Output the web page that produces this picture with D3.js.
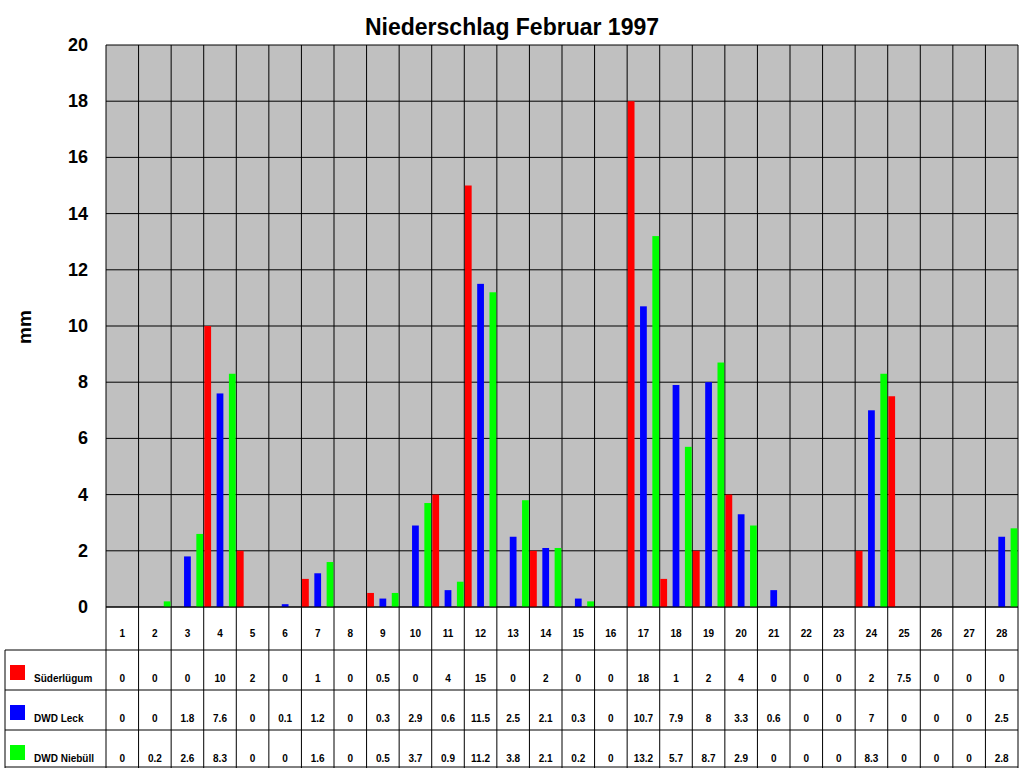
<!DOCTYPE html>
<html><head><meta charset="utf-8">
<script src="https://cdn.jsdelivr.net/npm/d3@7"></script>
<style>body{margin:0;background:#fff}svg{font-family:Arial,"Liberation Sans",sans-serif}</style>
</head><body><div id="chart"></div>
<script>
// Daten
const tage = d3.range(1, 29).map(String);
const serien = ["Süderlügum", "DWD Leck", "DWD Niebüll"];
const farben = ["#ff0000", "#0000ff", "#00ff00"];
const suederluegum = [0,0,0,10,2,0,1,0,0.5,0,4,15,0,2,0,0,18,1,2,4,0,0,0,2,7.5,0,0,0];
const dwdLeck = [0,0,1.8,7.6,0,0.1,1.2,0,0.3,2.9,0.6,11.5,2.5,2.1,0.3,0,10.7,7.9,8,3.3,0.6,0,0,7,0,0,0,2.5];
const dwdNiebuell = [0,0.2,2.6,8.3,0,0,1.6,0,0.5,3.7,0.9,11.2,3.8,2.1,0.2,0,13.2,5.7,8.7,2.9,0,0,0,8.3,0,0,0,2.8];
const yTicks = [0,2,4,6,8,10,12,14,16,18,20];
const werte = [suederluegum, dwdLeck, dwdNiebuell];

const W = 1024, H = 768;
const pLeft = 106, pRight = 1018, pTop = 45, pBottom = 607;
const svg = d3.select('#chart').append('svg').attr('width', W).attr('height', H);

const x = d3.scaleBand().domain(tage).range([pLeft, pRight]);
const xi = d3.scaleBand().domain(serien).range([0, x.bandwidth()]).paddingInner(0.45).paddingOuter(0.05);
const y = d3.scaleLinear().domain([0, 20]).range([pBottom, pTop]);

// Hintergrund
svg.append('rect').attr('x', pLeft).attr('y', pTop).attr('width', pRight - pLeft).attr('height', pBottom - pTop).attr('fill', '#c0c0c0');

// Gitter
svg.append('g').selectAll('line').data(yTicks).join('line')
  .attr('x1', pLeft).attr('x2', pRight).attr('y1', d => y(d)).attr('y2', d => y(d)).attr('stroke', '#000');
svg.append('g').selectAll('line').data(d3.range(29)).join('line')
  .attr('x1', i => pLeft + i * x.bandwidth()).attr('x2', i => pLeft + i * x.bandwidth())
  .attr('y1', pTop).attr('y2', pBottom).attr('stroke', '#000');

// Balken
serien.forEach((s, si) => {
  svg.append('g').selectAll('rect').data(werte[si]).join('rect')
    .attr('x', (d, i) => x(tage[i]) + xi(s))
    .attr('width', xi.bandwidth())
    .attr('y', d => y(d))
    .attr('height', d => pBottom - y(d))
    .attr('fill', farben[si]);
});

// Y-Achse
svg.append('g').selectAll('text').data(yTicks).join('text')
  .attr('x', 88).attr('y', d => y(d) + 6).attr('text-anchor', 'end')
  .attr('font-size', 18).attr('font-weight', 'bold').text(d => d);
svg.append('text').attr('transform', 'translate(31,327) rotate(-90)').attr('text-anchor', 'middle')
  .attr('font-size', 19).attr('font-weight', 'bold').text('mm');

// Titel
svg.append('text').attr('x', 512).attr('y', 35).attr('text-anchor', 'middle')
  .attr('font-size', 23).attr('font-weight', 'bold').text('Niederschlag Februar 1997');

// Tabelle
const rowY = [607, 650, 690, 730, 767];
const tab = svg.append('g').attr('stroke', '#000').attr('fill', 'none');
rowY.forEach(r => tab.append('line').attr('x1', r === 607 ? pLeft : 5).attr('x2', pRight).attr('y1', r).attr('y2', r));
tab.append('line').attr('x1', 5).attr('x2', 5).attr('y1', 650).attr('y2', 768);
d3.range(29).forEach(i => tab.append('line')
  .attr('x1', pLeft + i * x.bandwidth()).attr('x2', pLeft + i * x.bandwidth()).attr('y1', 607).attr('y2', 768));

svg.append('g').selectAll('text').data(tage).join('text')
  .attr('x', d => x(d) + x.bandwidth() / 2).attr('y', 637).attr('text-anchor', 'middle')
  .attr('font-size', 10).attr('font-weight', 'bold').text(d => d);

serien.forEach((s, si) => {
  const cy = rowY[si + 1] + 32;
  svg.append('rect').attr('x', 10).attr('y', cy - 17).attr('width', 15).attr('height', 15).attr('fill', farben[si]);
  svg.append('text').attr('x', 34).attr('y', cy).attr('font-size', 10).attr('font-weight', 'bold').text(s);
  svg.append('g').selectAll('text').data(werte[si]).join('text')
    .attr('x', (d, i) => x(tage[i]) + x.bandwidth() / 2).attr('y', cy).attr('text-anchor', 'middle')
    .attr('font-size', 10).attr('font-weight', 'bold').text(d => d);
});
</script></body></html>
